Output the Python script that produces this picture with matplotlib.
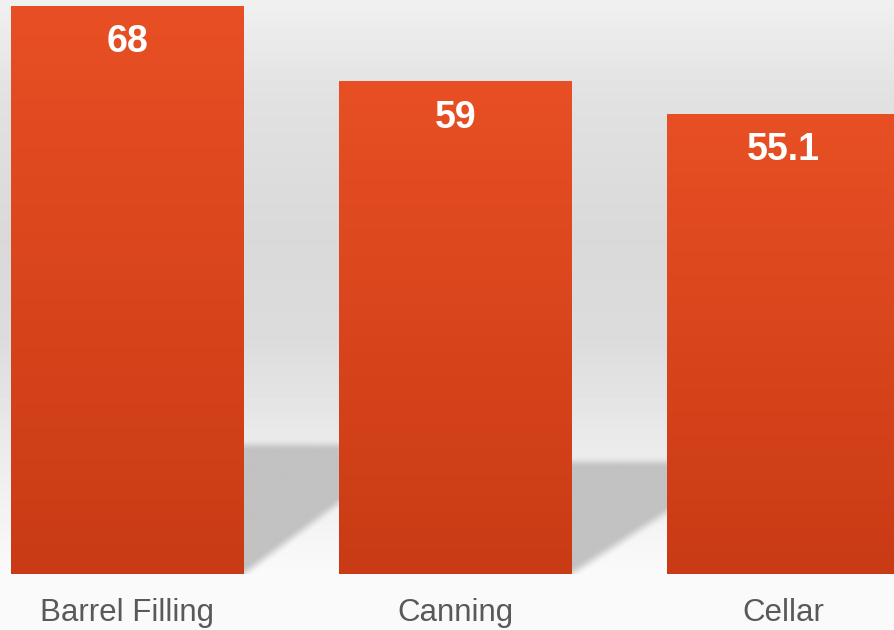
import numpy as np
import matplotlib.pyplot as plt
from matplotlib.colors import LinearSegmentedColormap

# Data
categories = ["Barrel Filling", "Canning", "Cellar"]
values = [68, 59, 55.1]
value_labels = ["68", "59", "55.1"]

bar_top_color = "#e84f24"
bar_bottom_color = "#c93b15"
label_color = "#595959"

W, H = 894, 630
fig = plt.figure(figsize=(W / 100, H / 100), dpi=100)
fig.patch.set_facecolor("#fafafa")

# backdrop: light grey wall fading to a white floor
bg = fig.add_axes([0, 0, 1, 1], zorder=-2)
rows = np.arange(H)
stops_px = [0, 100, 240, 340, 440, 574, 630]
stops_gray = [240, 225, 217, 220, 234, 250, 250]
gray = np.interp(rows, stops_px, stops_gray) / 255.0
bg.imshow(np.repeat(gray[:, None], 4, axis=1), cmap="gray", vmin=0, vmax=1,
          aspect="auto", extent=(0, 1, 0, 1), origin="upper")
bg.set_axis_off()

ax = fig.add_axes([0, 56 / H, 1, 574 / H])
ax.set_facecolor("none")
step = 328.0
ax.set_xlim(-127.5 / step, (W - 127.5) / step)
ax.set_ylim(0, 68 * 574 / 568)
width = 233 / step

x = np.arange(len(categories))
bars = ax.bar(x, values, width=width, color="#d8451c", linewidth=0, zorder=3)

# cast shadows between the bars
x0, x1 = ax.get_xlim()
y0, y1 = ax.get_ylim()
gx = np.linspace(x0, x1, 900)
gy = np.linspace(y0, y1, 600)
XX, YY = np.meshgrid(gx, gy)
alpha = np.zeros_like(XX)


def smooth(t):
    t = np.clip(t, 0, 1)
    return t * t * (3 - 2 * t)


for i in range(len(values) - 1):
    v = values[i]
    r = x[i] + width / 2
    nl = x[i + 1] - width / 2
    top = 0.227 * v
    inside_x = (XX >= r - 0.015) & (XX <= nl + 0.02)
    top_edge = smooth((top - YY) / 1.4 + 0.5)
    diag = 0.43 * v * (XX - r)
    diag_edge = smooth((YY - diag) / 1.8 + 0.5)
    m = np.where(inside_x, top_edge * diag_edge, 0)
    alpha = np.maximum(alpha, m)

shadow = np.zeros(XX.shape + (4,))
shadow[..., :3] = 194 / 255.0
shadow[..., 3] = alpha
ax.imshow(shadow, extent=(x0, x1, y0, y1), origin="lower", aspect="auto",
          zorder=1, interpolation="bilinear")

# vertical gradient on each bar
bar_cmap = LinearSegmentedColormap.from_list("bar", [bar_bottom_color, bar_top_color])
grad = np.linspace(0, 1, 256)[:, None]
for b in bars:
    bx, bw, bh = b.get_x(), b.get_width(), b.get_height()
    im = ax.imshow(grad, cmap=bar_cmap, extent=(bx, bx + bw, 0, bh),
                   origin="lower", aspect="auto", zorder=4)
    im.set_clip_path(b)

ax.set_xlim(x0, x1)
ax.set_ylim(y0, y1)

for i, v in enumerate(values):
    ax.annotate(value_labels[i], (x[i], v), xytext=(0, -36.5), textcoords="offset pixels",
                ha="center", va="center", color="white", fontsize=27,
                fontweight="bold", family="Liberation Sans", zorder=5)

ax.set_xticks(x)
ax.set_xticklabels(categories, fontsize=22.5, color=label_color, family="Liberation Sans")
ax.tick_params(axis="x", length=0, pad=17)
ax.set_yticks([])
for s in ax.spines.values():
    s.set_visible(False)

fig.savefig("out.png", dpi=100, facecolor=fig.get_facecolor())
